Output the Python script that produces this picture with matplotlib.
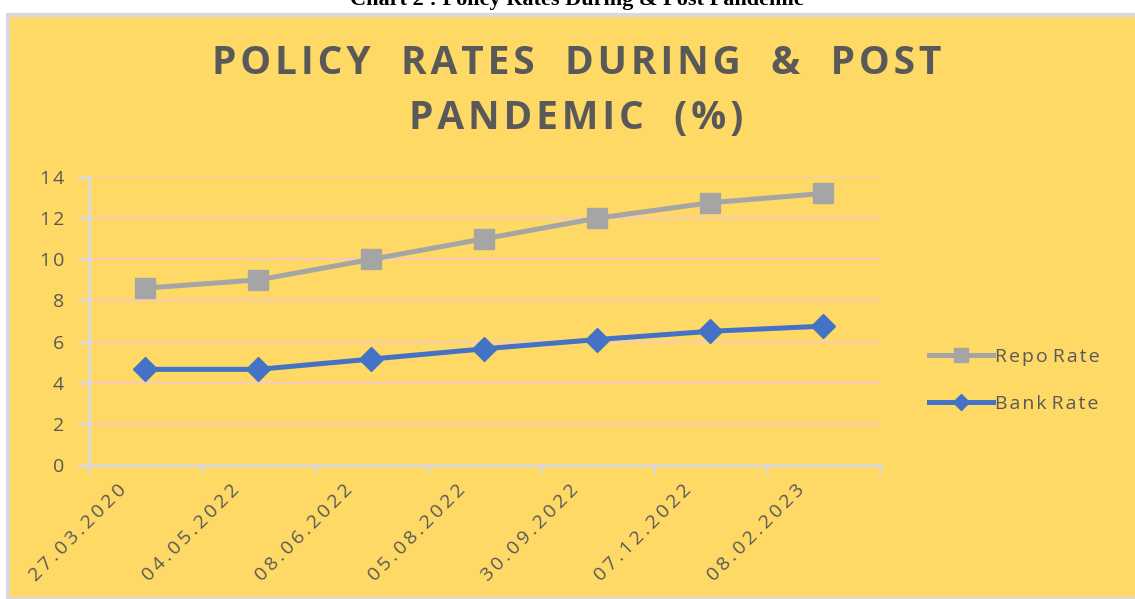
import matplotlib
matplotlib.use("Agg")
import matplotlib.pyplot as plt
import matplotlib.transforms as mtransforms
from matplotlib.patches import Rectangle

dates = ["27.03.2020", "04.05.2022", "08.06.2022", "05.08.2022",
         "30.09.2022", "07.12.2022", "08.02.2023"]
repo_rate = [8.6, 9.0, 10.0, 11.0, 12.0, 12.75, 13.2]
bank_rate = [4.65, 4.65, 5.15, 5.65, 6.1, 6.5, 6.75]

HAIR = "\u200a"
THIN = "\u2009"
FAM = ["Open Sans", "DejaVu Sans"]


def spaced(s, sep=HAIR, gap="  "):
    # fake letter spacing, like the office chart does
    return gap.join(sep.join(w) for w in s.split(" "))


W, H = 1135, 599
fig = plt.figure(figsize=(W / 100, H / 100), dpi=100)
fig.patch.set_facecolor("white")

# yellow chart area with grey border
fig.patches.append(Rectangle((8 / W, 0), 1.0, 1 - 15 / H, transform=fig.transFigure,
                             facecolor="#FFD966", edgecolor="#D9D9D9", linewidth=3,
                             zorder=-5))

# caption cut off at the top
fig.text(0.508, 1 - 5 / H, "Chart 2 : Policy Rates During & Post Pandemic",
         ha="center", va="baseline", fontsize=16, fontweight="bold",
         family="Liberation Serif", color="black")

fig.text(0.508, 1 - 63 / H, spaced("POLICY RATES DURING & POST", gap="   "),
         ha="center", va="center", fontsize=28, fontweight="bold",
         family=FAM, color="#595959")
fig.text(0.508, 1 - 118 / H, spaced("PANDEMIC (%)", gap="   "),
         ha="center", va="center", fontsize=28, fontweight="bold",
         family=FAM, color="#595959")

ax = fig.add_axes([89 / W, 1 - 465 / H, (880 - 89) / W, (465 - 177) / H])
ax.set_facecolor("none")

x = list(range(len(dates)))
ax.plot(x, repo_rate, color="#A5A5A5", lw=3.6, marker="s", markersize=15,
        label=spaced("Repo Rate", gap=" "), zorder=3)
ax.plot(x, bank_rate, color="#4472C4", lw=3.6, marker="D", markersize=12,
        label=spaced("Bank Rate", gap=" "), zorder=3)

ax.set_xlim(-0.5, len(dates) - 0.5)
ax.set_ylim(0, 14)
ax.set_yticks(range(0, 15, 2))
ax.set_yticklabels([spaced(str(v)) for v in range(0, 15, 2)])
ax.yaxis.grid(True, color="#F4CCB8", lw=1.5)
ax.set_axisbelow(True)

for s in ["top", "right"]:
    ax.spines[s].set_visible(False)
for s in ["left", "bottom"]:
    ax.spines[s].set_color("#D9D9D9")
    ax.spines[s].set_linewidth(2)

# category boundaries get the tick marks, labels sit under the categories
ax.set_xticks([i - 0.5 for i in range(len(dates) + 1)])
ax.set_xticklabels([])
ax.tick_params(axis="x", length=6, width=2, color="#D9D9D9")
shift = mtransforms.ScaledTranslation(-15.8 / 72, -16 / 72, fig.dpi_scale_trans)
for i, d in zip(x, dates):
    ax.text(i, 0, spaced(d, THIN), transform=ax.get_xaxis_transform() + shift,
            rotation=45, ha="right", va="center", rotation_mode="anchor",
            family=FAM, fontsize=14, color="#595959", clip_on=False)

ax.tick_params(axis="y", length=8, width=2, color="#D9D9D9", labelsize=14,
               labelcolor="#595959", pad=10)
for lbl in ax.get_yticklabels():
    lbl.set_family(FAM)

leg = ax.legend(loc="center left", bbox_to_anchor=(1.04, 0.293), frameon=False,
                prop={"family": FAM, "size": 14}, labelcolor="#595959",
                handlelength=3.3, handletextpad=0.1, labelspacing=1.5,
                markerscale=0.65)

fig.savefig("out.png", dpi=100, facecolor=fig.get_facecolor())
